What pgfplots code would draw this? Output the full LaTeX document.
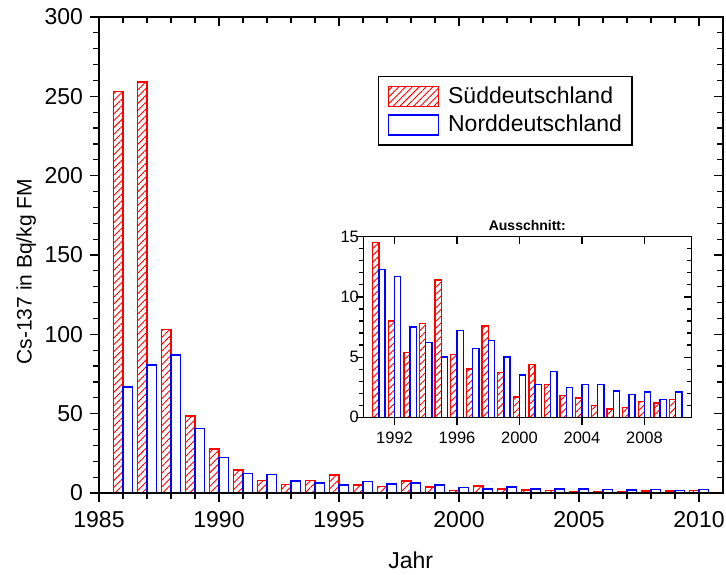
\documentclass[border=0pt]{standalone}
\usepackage{fontspec}
\setmainfont{Liberation Sans}
\usepackage{pgfplots}
\usepackage{pgfplotstable}
\pgfplotsset{compat=1.18}
\usetikzlibrary{patterns.meta}

\pgfplotstableread{
year sued nord
1986 253 67
1987 259 80.5
1988 103 87
1989 48.5 40.7
1990 27.7 22.3
1991 14.5 12.3
1992 8.0 11.7
1993 5.4 7.5
1994 7.8 6.2
1995 11.4 5.0
1996 5.2 7.2
1997 4.0 5.7
1998 7.6 6.4
1999 3.7 5.0
2000 1.7 3.5
2001 4.4 2.7
2002 2.7 3.8
2003 1.8 2.5
2004 1.6 2.7
2005 1.0 2.7
2006 0.7 2.2
2007 0.8 1.9
2008 1.3 2.1
2009 1.2 1.5
2010 1.5 2.1
}\datatable

\pgfplotstableread{
year sued nord
1991 14.5 12.3
1992 8.0 11.7
1993 5.4 7.5
1994 7.8 6.2
1995 11.4 5.0
1996 5.2 7.2
1997 4.0 5.7
1998 7.6 6.4
1999 3.7 5.0
2000 1.7 3.5
2001 4.4 2.7
2002 2.7 3.8
2003 1.8 2.5
2004 1.6 2.7
2005 1.0 2.7
2006 0.7 2.2
2007 0.8 1.9
2008 1.3 2.1
2009 1.2 1.5
2010 1.5 2.1
}\insettable

\pgfplotsset{
  suedstyle/.style={draw=red, line width=0.8pt, pattern={Lines[angle=45,distance=2.4pt,line width=0.45pt]}, pattern color=red},
  nordstyle/.style={draw=blue, line width=0.8pt, fill=white},
}

\begin{document}
\begin{tikzpicture}
% main axis
\begin{axis}[
  at={(49.5pt,40.5pt)}, anchor=south west,
  scale only axis, width=312pt, height=238pt,
  xmin=1985, xmax=2011, ymin=0, ymax=300,
  xtick={1985,1990,...,2010}, minor x tick num=4,
  ytick={0,50,...,300}, minor y tick num=4,
  tick align=outside, xtick pos=bottom, ytick pos=left,
  major tick length=4.5pt, minor tick length=2.8pt,
  every tick/.style={line width=0.6pt, black},
  axis line style={line width=0.7pt},
  ticklabel style={font=\fontsize{11.5}{13}\selectfont},
  xticklabel style={yshift=-1pt},
  /pgf/number format/assume math mode=true,
  /pgf/number format/set thousands separator={},
  ybar, bar width=0.4,
  legend image code/.code={\path (-1.5pt,0) (27.5pt,0); \draw[#1, line width=0.8pt] (0pt,-5pt) rectangle (25pt,5pt);},
  legend style={at={(rel axis cs:0.447,0.876)}, anchor=north west, draw=black, line width=0.6pt,
    font=\fontsize{11.5}{13}\selectfont, inner xsep=3pt, inner ysep=3pt, row sep=0.5pt},
  legend cell align=left,
]
\addplot[suedstyle, bar shift=-0.2] table[x=year, y=sued] {\datatable};
\addlegendentry{Süddeutschland}
\addplot[nordstyle, bar shift=0.2] table[x=year, y=nord] {\datatable};
\addlegendentry{Norddeutschland\hspace{5pt}}
\end{axis}
% main axis: mirrored inward ticks on top and right
\begin{axis}[
  at={(49.5pt,40.5pt)}, anchor=south west,
  scale only axis, width=312pt, height=238pt,
  xmin=1985, xmax=2011, ymin=0, ymax=300,
  xtick={1985,1990,...,2010}, minor x tick num=4,
  ytick={0,50,...,300}, minor y tick num=4,
  tick align=inside, xtick pos=top, ytick pos=right,
  major tick length=4.5pt, minor tick length=2.8pt,
  every tick/.style={line width=0.6pt, black},
  axis line style={line width=0.7pt},
  xticklabels={}, yticklabels={},
]
\end{axis}
% inset
\begin{axis}[
  at={(181.65pt,78.35pt)}, anchor=south west,
  scale only axis, width=164pt, height=90.3pt,
  xmin=1990, xmax=2011, ymin=0, ymax=15,
  xtick={1992,1996,...,2008}, minor x tick num=3,
  ytick={0,5,10,15}, minor y tick num=4,
  tick align=outside, xtick pos=bottom, ytick pos=left,
  major tick length=3.8pt, minor tick length=2.3pt,
  every tick/.style={line width=0.6pt, black},
  axis line style={line width=0.7pt},
  ticklabel style={font=\fontsize{8.25}{10}\selectfont},
  yticklabel style={inner xsep=0pt, xshift=1.8pt},
  /pgf/number format/assume math mode=true,
  /pgf/number format/set thousands separator={},
  ybar, bar width=0.4,
]
\addplot[suedstyle, line width=0.7pt, bar shift=-0.2] table[x=year, y=sued] {\insettable};
\addplot[nordstyle, line width=0.7pt, bar shift=0.2] table[x=year, y=nord] {\insettable};
\end{axis}
\begin{axis}[
  at={(181.65pt,78.35pt)}, anchor=south west,
  scale only axis, width=164pt, height=90.3pt,
  xmin=1990, xmax=2011, ymin=0, ymax=15,
  xtick={1992,1996,...,2008}, minor x tick num=3,
  ytick={0,5,10,15}, minor y tick num=4,
  tick align=inside, xtick pos=top, ytick pos=right,
  major tick length=3.8pt, minor tick length=2.3pt,
  every tick/.style={line width=0.6pt, black},
  axis line style={line width=0.7pt},
  xticklabels={}, yticklabels={},
]
\end{axis}
\node[font=\bfseries\fontsize{7}{8}\selectfont] at (263.65pt,174.5pt) {Ausschnitt:};
\node[font=\fontsize{11.5}{13}\selectfont, anchor=base] at (205.35pt,3pt) {Jahr};
\node[font=\fontsize{10.5}{12}\selectfont, anchor=base, rotate=90] at (15.85pt,151.2pt) {Cs-137 in Bq/kg FM};
\pgfresetboundingbox
\path[use as bounding box] (0,0) rectangle (363pt,287pt);
\end{tikzpicture}
\end{document}
